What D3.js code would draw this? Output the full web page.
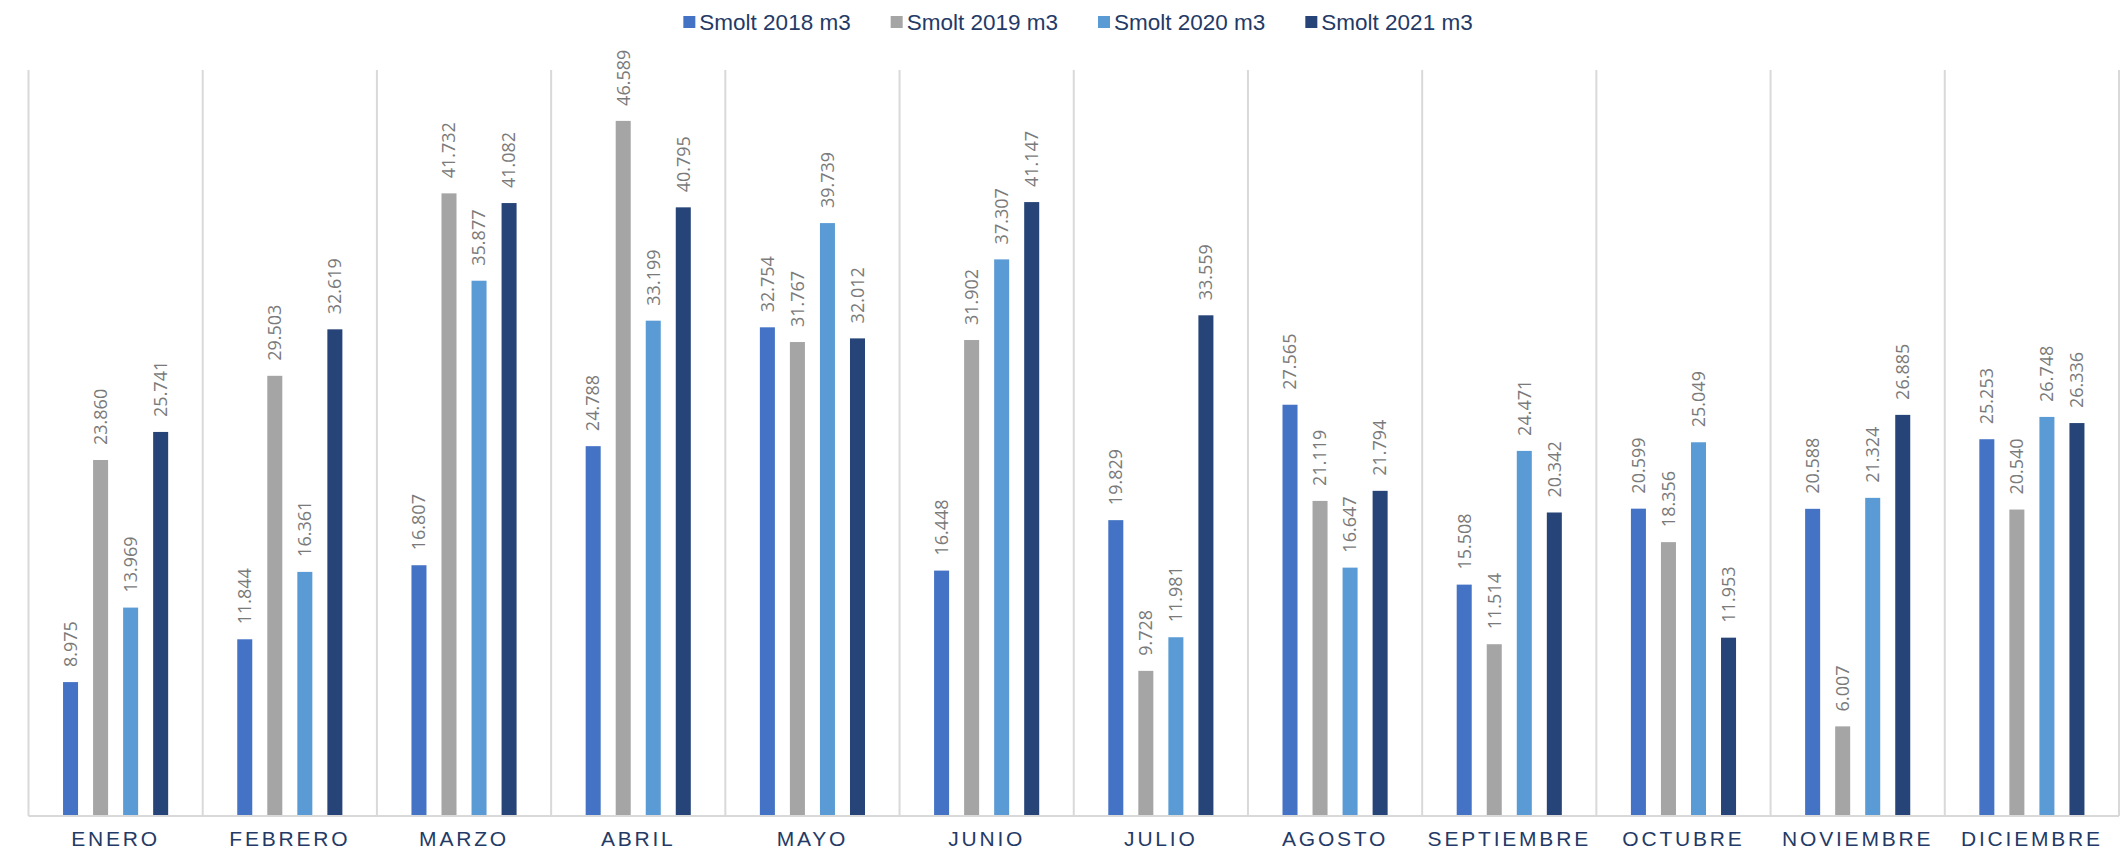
<!DOCTYPE html>
<html>
<head>
<meta charset="utf-8">
<script src="https://cdn.jsdelivr.net/npm/d3@7.9.0/dist/d3.min.js"></script>
<style>
  body { margin: 0; background: #fff; }
  svg { display: block; }
</style>
</head>
<body>
<svg id="chart" width="2126" height="858"></svg>
<script>
// months shown on the category axis
const months = ["ENERO", "FEBRERO", "MARZO", "ABRIL", "MAYO", "JUNIO", "JULIO",
  "AGOSTO", "SEPTIEMBRE", "OCTUBRE", "NOVIEMBRE", "DICIEMBRE"];

const seriesNames = ["Smolt 2018 m3", "Smolt 2019 m3", "Smolt 2020 m3", "Smolt 2021 m3"];

// m3 per month for every year
const smolt2018 = [8975, 11844, 16807, 24788, 32754, 16448, 19829, 27565, 15508, 20599, 20588, 25253];
const smolt2019 = [23860, 29503, 41732, 46589, 31767, 31902, 9728, 21119, 11514, 18356, 6007, 20540];
const smolt2020 = [13969, 16361, 35877, 33199, 39739, 37307, 11981, 16647, 24471, 25049, 21324, 26748];
const smolt2021 = [25741, 32619, 41082, 40795, 32012, 41147, 33559, 21794, 20342, 11953, 26885, 26336];

const seriesValues = [smolt2018, smolt2019, smolt2020, smolt2021];
const seriesColors = ["#4472c4", "#a5a5a5", "#5b9bd5", "#264478"];

// spanish number format: 8.975
const esLocale = d3.formatLocale({ decimal: ",", thousands: ".", grouping: [3], currency: ["", ""] });
const fmt = esLocale.format(",d");

const svg = d3.select("#chart");
const margin = { left: 28.5, right: 7, top: 70, bottom: 42 };
const width = 2126, height = 858;
const baseY = height - margin.bottom;

let x0 = d3.scaleBand()
  .domain(months)
  .range([margin.left, width - margin.right])
  .padding(0);

let x1 = d3.scaleBand()
  .domain(seriesNames)
  .range([0, x0.bandwidth()])
  .paddingInner(0.5)
  .paddingOuter(1.15);

let y = d3.scaleLinear()
  .domain([0, 50000])
  .range([baseY, margin.top]);

let color = d3.scaleOrdinal().domain(seriesNames).range(seriesColors);

// vertical gridlines between months
let bounds = months.map((m) => x0(m)).concat([x0(months[months.length - 1]) + x0.bandwidth()]);
svg.append("g")
  .selectAll("line")
  .data(bounds)
  .enter()
  .append("line")
  .attr("x1", (d) => d)
  .attr("x2", (d) => d)
  .attr("y1", margin.top)
  .attr("y2", baseY)
  .attr("stroke", "#d9d9d9")
  .attr("stroke-width", 2);

// bars
let rows = months.map((m, i) => ({
  month: m,
  values: seriesNames.map((s, j) => ({ series: s, value: seriesValues[j][i] }))
}));

let groups = svg.append("g")
  .selectAll("g")
  .data(rows)
  .enter()
  .append("g")
  .attr("transform", (d) => `translate(${x0(d.month)},0)`);

groups.selectAll("rect")
  .data((d) => d.values)
  .enter()
  .append("rect")
  .attr("x", (d) => x1(d.series))
  .attr("y", (d) => y(d.value))
  .attr("width", x1.bandwidth())
  .attr("height", (d) => baseY - y(d.value))
  .attr("fill", (d) => color(d.series));

// rotated value labels
groups.selectAll("text")
  .data((d) => d.values)
  .enter()
  .append("text")
  .attr("transform", (d) => `translate(${x1(d.series) + x1.bandwidth() / 2},${y(d.value) - 15}) rotate(-90)`)
  .attr("dy", "0.35em")
  .attr("text-anchor", "start")
  .attr("font-family", "Open Sans, sans-serif")
  .attr("font-size", 18)
  .attr("fill", "#7a7a7a")
  .text((d) => fmt(d.value));

// baseline
svg.append("line")
  .attr("x1", margin.left)
  .attr("x2", width - margin.right)
  .attr("y1", baseY)
  .attr("y2", baseY)
  .attr("stroke", "#d9d9d9")
  .attr("stroke-width", 2);

// month labels
let xAxis = svg.append("g")
  .attr("transform", `translate(0,${baseY})`)
  .call(d3.axisBottom(x0).tickSize(0).tickPadding(15));
xAxis.select(".domain").remove();
xAxis.selectAll("text")
  .attr("font-family", "Liberation Sans, Arial, sans-serif")
  .attr("font-size", 21)
  .attr("letter-spacing", "2.8px")
  .attr("fill", "#243a66");

// legend
let legend = svg.append("g");
let items = legend.selectAll("g")
  .data(seriesNames)
  .enter()
  .append("g");

items.append("rect")
  .attr("width", 12)
  .attr("height", 12)
  .attr("y", -6)
  .attr("fill", (d) => color(d));

items.append("text")
  .attr("x", 16)
  .attr("dy", "0.35em")
  .attr("font-family", "Liberation Sans, Arial, sans-serif")
  .attr("font-size", 22.5)
  .attr("fill", "#243a66")
  .text((d) => d);

let offsets = [];
let cursor = 0;
items.each(function () {
  offsets.push(cursor);
  cursor += this.getBBox().width + 40;
});
let total = cursor - 40;
let startX = 1078 - total / 2;
items.attr("transform", (d, i) => `translate(${startX + offsets[i]},22)`);
</script>
</body>
</html>
